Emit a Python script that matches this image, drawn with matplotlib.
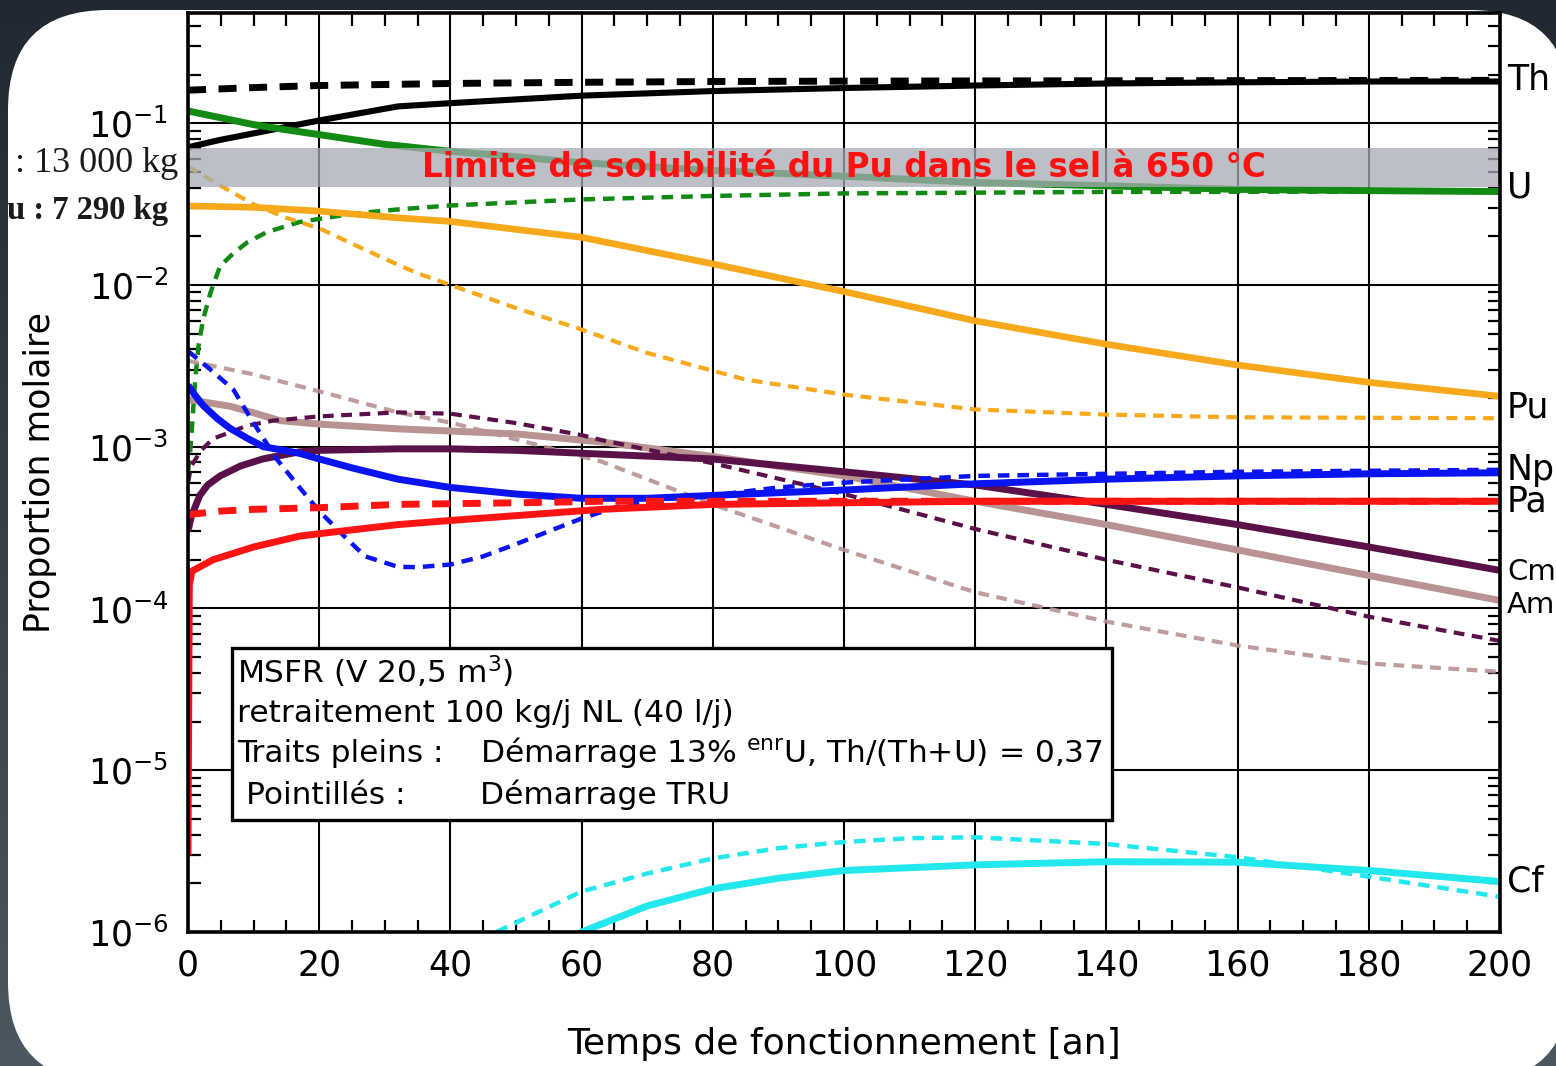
import numpy as np
import matplotlib
matplotlib.use('Agg')
import matplotlib.pyplot as plt
import matplotlib.patches as mpatches
from matplotlib.ticker import FixedLocator, MultipleLocator, LogLocator, NullFormatter

# ── DATA ────────────────────────────────────────────────
# solid = start 13% enrU, dashed = start TRU
th_x = [0, 5, 10, 20, 32, 40, 60, 80, 100, 120, 140, 160, 180, 200]
th_y = [0.071, 0.079, 0.0865, 0.104, 0.127, 0.133, 0.148, 0.158, 0.165,
        0.171, 0.176, 0.179, 0.181, 0.181]
th_tru_x = [0, 10, 20, 40, 60, 80, 100, 140, 200]
th_tru_y = [0.160, 0.166, 0.171, 0.176, 0.179, 0.181, 0.182, 0.183, 0.184]

u_x = [0, 5, 10, 15, 20, 30, 40, 50, 60, 80, 100, 120, 140, 160, 180, 200]
u_y = [0.119, 0.108, 0.098, 0.091, 0.085, 0.074, 0.067, 0.062, 0.057, 0.051,
       0.047, 0.043, 0.041, 0.039, 0.0383, 0.0378]
u_tru_x = [0, 0.3, 0.6, 1.1, 1.6, 2.3, 3.4, 4.9, 7, 9, 12, 17, 20, 25, 32, 40,
           60, 80, 100, 140, 200]
u_tru_y = [0.0007, 0.0009, 0.0013, 0.0026, 0.0042, 0.0061, 0.0089, 0.0131,
           0.0158, 0.0183, 0.0212, 0.0245, 0.0256, 0.0275, 0.0293, 0.031,
           0.0338, 0.0355, 0.0368, 0.0376, 0.0378]

pu_x = [0, 10, 20, 32, 40, 60, 80, 100, 120, 140, 160, 180, 200]
pu_y = [0.0308, 0.0302, 0.0286, 0.026, 0.0247, 0.0197, 0.0135, 0.0091,
        0.0060, 0.0043, 0.0032, 0.0025, 0.00205]
pu_tru_x = [0, 5, 10, 15, 20, 25, 30, 35, 40, 50, 60, 70, 85, 100, 120, 140,
            160, 180, 200]
pu_tru_y = [0.054, 0.041, 0.0315, 0.026, 0.0224, 0.018, 0.0145, 0.0118, 0.0100,
            0.0072, 0.0053, 0.0038, 0.0026, 0.0021, 0.0017, 0.00158, 0.00152,
            0.00151, 0.0015]

np_x = [0, 1, 2.3, 4.4, 6.4, 9, 11.5, 14, 17, 20, 25, 32, 40, 50, 60, 70, 80,
        100, 120, 140, 160, 180, 200]
np_y = [0.0024, 0.0021, 0.0018, 0.0015, 0.0013, 0.00113, 0.0010, 0.00096,
        0.00091, 0.00084, 0.00074, 0.00063, 0.00056, 0.00051, 0.00048,
        0.00048, 0.0005, 0.00054, 0.00059, 0.00063, 0.00066, 0.00068, 0.00069]
np_tru_x = [0, 3, 6.9, 10, 13.5, 17, 20, 24, 27, 30, 32, 35, 40, 45, 50, 55,
            60, 65, 70, 80, 90, 100, 120, 140, 160, 200]
np_tru_y = [0.0039, 0.0031, 0.00226, 0.0014, 0.00084, 0.00056, 0.0004,
            0.000275, 0.00021, 0.000192, 0.000181, 0.00018, 0.000187,
            0.00021, 0.00025, 0.0003, 0.00036, 0.00042, 0.000465, 0.0005,
            0.00056, 0.0006, 0.00066, 0.00068, 0.0007, 0.00072]

pa_x = [0, 0.2, 0.6, 3.8, 10, 17, 20, 32, 40, 63, 80, 100, 120, 200]
pa_y = [3e-6, 1.4e-4, 1.7e-4, 2.0e-4, 2.4e-4, 2.8e-4, 2.9e-4, 3.3e-4, 3.5e-4,
        4.1e-4, 4.4e-4, 4.5e-4, 4.6e-4, 4.6e-4]
pa_tru_x = [0, 5, 10, 20, 32, 50, 63, 80, 200]
pa_tru_y = [0.00038, 0.0004, 0.00041, 0.00042, 0.00044, 0.00045, 0.00046,
            0.00046, 0.00046]

cm_x = [0, 0.5, 1.8, 3, 4.9, 8, 11.4, 17, 20, 32, 40, 50, 63, 80, 100, 120,
        140, 160, 180, 200]
cm_y = [0.0003, 0.00037, 0.0005, 0.00058, 0.00066, 0.00076, 0.00084, 0.00093,
        0.00095, 0.00097, 0.00097, 0.00095, 0.0009, 0.00084, 0.0007, 0.00058,
        0.00044, 0.00033, 0.00024, 0.000172]
cm_tru_x = [0, 0.5, 2, 3.8, 6.9, 9, 13, 17, 20, 32, 40, 50, 60, 63, 80, 100,
            120, 140, 160, 180, 200]
cm_tru_y = [0.0006, 0.00076, 0.00095, 0.00112, 0.00125, 0.00135, 0.00145,
            0.0015, 0.00154, 0.00163, 0.0016, 0.0014, 0.00118, 0.0011,
            0.00079, 0.00051, 0.00031, 0.0002, 0.000135, 0.000089, 0.000063]

am_x = [0, 2, 6.4, 10, 14, 20, 32, 40, 50, 63, 80, 100, 120, 140, 160, 180, 200]
am_y = [0.00196, 0.0019, 0.00178, 0.00162, 0.00145, 0.00138, 0.00129, 0.00125,
        0.0012, 0.00107, 0.00087, 0.00066, 0.00046, 0.00033, 0.00023, 0.00016,
        0.000112]
am_tru_x = [0, 10, 20, 32, 40, 50, 63, 80, 100, 120, 140, 160, 180, 200]
am_tru_y = [0.0034, 0.0028, 0.0022, 0.00163, 0.00141, 0.00111, 0.00081,
            0.00044, 0.00023, 0.000126, 0.000083, 0.000059, 0.0000457,
            0.0000406]

cf_x = [55, 60, 70, 80, 90, 100, 120, 140, 160, 180, 200]
cf_y = [7e-7, 1e-6, 1.45e-6, 1.85e-6, 2.15e-6, 2.4e-6, 2.6e-6, 2.72e-6,
        2.7e-6, 2.4e-6, 2.05e-6]
cf_tru_x = [40, 47, 60, 70, 80, 90, 100, 110, 120, 140, 160, 180, 200]
cf_tru_y = [6e-7, 1e-6, 1.78e-6, 2.3e-6, 2.85e-6, 3.3e-6, 3.6e-6, 3.8e-6,
            3.85e-6, 3.5e-6, 2.9e-6, 2.2e-6, 1.65e-6]

element_labels = ["Th", "U", "Pu", "Np", "Pa", "Cm", "Am", "Cf"]
label_ypix = [80, 188, 408, 470, 502, 572, 605, 882]

pu_limit = (0.0406, 0.0698)
x_ticks = list(range(0, 201, 20))

# ── STYLE ───────────────────────────────────────────────
COL = {
    "Th": "#000000", "U": "#138a13", "Pu": "#f7a81b", "Np": "#0a14f0",
    "Pa": "#ff1414", "Cm": "#5a1048", "Am": "#b99292", "Cf": "#22e8ee",
}
FONT = "DejaVu Sans"
W, H = 1556, 1066

fig = plt.figure(figsize=(W / 100, H / 100), dpi=100)

# slide background + white rounded panel
bg = fig.add_axes([0, 0, 1, 1])
bg.set_xlim(0, W)
bg.set_ylim(H, 0)
bg.axis('off')
grad = np.linspace(0, 1, 256)[:, None] * np.ones((1, 2))
bg.imshow(grad, extent=[0, W, H, 0], aspect='auto',
          cmap=matplotlib.colors.LinearSegmentedColormap.from_list(
              'slide', ['#212831', '#4d5761']), zorder=0)
bg.add_patch(mpatches.FancyBboxPatch(
    (8, 10), 1562, 1072, boxstyle="round,pad=0,rounding_size=100",
    facecolor='white', edgecolor='none', zorder=1))

# left cropped text from slide
bg.text(178, 163, ": 13 000 kg", family="Liberation Serif", fontsize=26,
        ha='right', va='center', color='#1a1a1a', zorder=2)
bg.text(168, 210, "u : 7 290 kg", family="Liberation Serif", fontsize=23.5,
        fontweight='bold', ha='right', va='center', color='#1a1a1a', zorder=2)

# main axes
ax = fig.add_axes([188 / W, 1 - 932 / H, (1500 - 188) / W, (932 - 13) / H])
ax.set_facecolor('none')
ax.set_yscale('log')
ax.set_xlim(0, 200)
ax.set_ylim(1e-6, 0.48)

series = [
    (th_x, th_y, th_tru_x, th_tru_y, "Th", 4.4, 5.0),
    (u_x, u_y, u_tru_x, u_tru_y, "U", 5.0, 3.2),
    (pu_x, pu_y, pu_tru_x, pu_tru_y, "Pu", 4.8, 3.0),
    (am_x, am_y, am_tru_x, am_tru_y, "Am", 5.0, 3.0),
    (cm_x, cm_y, cm_tru_x, cm_tru_y, "Cm", 5.0, 3.0),
    (np_x, np_y, np_tru_x, np_tru_y, "Np", 5.0, 3.2),
    (pa_x, pa_y, pa_tru_x, pa_tru_y, "Pa", 5.0, 5.0),
    (cf_x, cf_y, cf_tru_x, cf_tru_y, "Cf", 5.0, 3.2),
]
for sx, sy, dx, dy, name, lw_s, lw_d in series:
    ax.plot(sx, sy, color=COL[name], lw=lw_s, solid_capstyle='butt', zorder=3)
    ax.plot(dx, dy, color=COL[name], lw=lw_d, linestyle=(0, (2.6, 1.8)),
            alpha=0.9 if name in ("Am",) else 1.0, zorder=3)

# Pu solubility band
ax.axhspan(*pu_limit, color='#a6abb3', alpha=0.75, lw=0, zorder=5)
ax.text(100, np.sqrt(pu_limit[0] * pu_limit[1]),
        "Limite de solubilité du Pu dans le sel à 650 °C",
        color='#ff1010', fontweight='bold', fontsize=23.5, family=FONT,
        ha='center', va='center', zorder=6)

# grid / ticks
ax.xaxis.set_major_locator(FixedLocator(x_ticks))
ax.xaxis.set_minor_locator(MultipleLocator(5))
ax.yaxis.set_major_locator(LogLocator(base=10, numticks=10))
ax.yaxis.set_minor_locator(LogLocator(base=10, subs=np.arange(2, 10), numticks=20))
ax.yaxis.set_minor_formatter(NullFormatter())
ax.grid(True, which='major', color='black', lw=1.5, zorder=1)
ax.tick_params(which='major', length=0, labelsize=25, pad=14)
ax.tick_params(which='minor', direction='in', length=9, width=1.6,
               top=True, right=True, bottom=True, left=True)
ax.tick_params(axis='x', which='major', pad=12)
for lab in ax.get_xticklabels() + ax.get_yticklabels():
    lab.set_family(FONT)
for s in ax.spines.values():
    s.set_linewidth(2.6)
    s.set_zorder(8)

ax.set_xlabel("Temps de fonctionnement [an]", fontsize=26, family=FONT,
              labelpad=32)
ax.set_ylabel("Proportion molaire", fontsize=25, family=FONT, labelpad=22)

# info box
box = mpatches.Rectangle((0.0335, 0.122), 0.6705, 0.187, transform=ax.transAxes,
                         facecolor='white', edgecolor='black', lw=2.4, zorder=9)
ax.add_patch(box)
info = [
    (237, 672, "MSFR (V 20,5 m$^{3}$)"),
    (237, 713, "retraitement 100 kg/j NL (40 l/j)"),
    (237, 753, "Traits pleins :"),
    (480, 753, "Démarrage 13% $^{\\mathregular{enr}}$U, Th/(Th+U) = 0,37"),
    (246, 795, "Pointillés :"),
    (480, 795, "Démarrage TRU"),
]
for px, py, t in info:
    fig.text(px / W, 1 - py / H, t, fontsize=22.5, family=FONT, ha='left',
             va='center', zorder=12)

# element labels at the right edge (Cm/Am a bit smaller so they stay inside)
for name, py in zip(element_labels, label_ypix):
    size = 21 if name in ("Cm", "Am") else 25
    fig.text(1507 / W, 1 - py / H, name, fontsize=size, family=FONT,
             ha='left', va='center')

fig.savefig('out.png', dpi=100)
